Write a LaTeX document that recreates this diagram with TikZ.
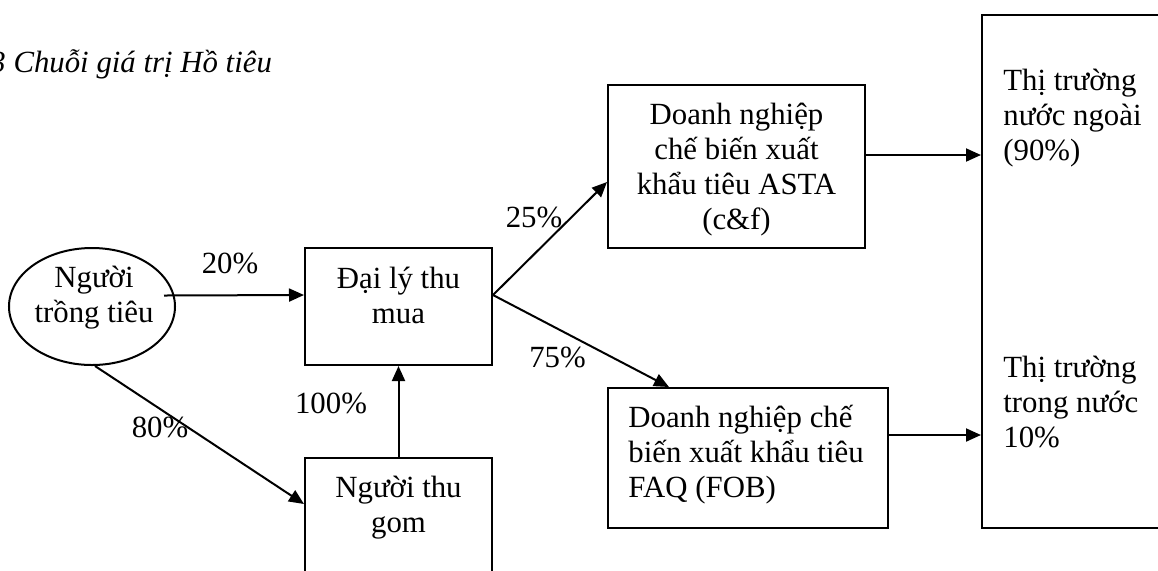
\documentclass[tikz,border=0pt]{standalone}
\usepackage{fontspec}
\setmainfont{Liberation Serif}
\usetikzlibrary{arrows.meta,shapes.geometric}
\newcommand\mytab[2]{\begin{tabular}[t]{@{}#1@{}}#2\end{tabular}}
\begin{document}
\begin{tikzpicture}[x=0.5pt,y=-0.5pt,
  every node/.style={font=\fontsize{15.4}{17.5}\selectfont, inner sep=0pt},
  boxshape/.style={draw, line width=1pt, rectangle, inner sep=0pt},
  ellshape/.style={draw, line width=1pt, ellipse, inner sep=0pt},
  conn/.style={line width=1pt, -{Triangle[length=7.5pt,width=6.5pt]}},
  lbl/.style={anchor=base},
  txt/.style={anchor=base},
  txtl/.style={anchor=base west}]
\useasboundingbox (0,0) rectangle (1158,570);
\clip (0,0) rectangle (1158,570);

% title (cut at the left edge)
\node[anchor=base west, font=\fontsize{15.4}{17.5}\selectfont\itshape] (title) at (-10,72) {3 Chuỗi giá trị Hồ tiêu};

% shapes
\node[ellshape, minimum width=83pt, minimum height=58.5pt] (ngu) at (92,306.5) {};
\node[boxshape, minimum width=93.5pt, minimum height=58.5pt] (dl) at (398.5,306.5) {};
\node[boxshape, minimum width=93.5pt, minimum height=81pt] (ntg) at (398.5,539) {};
\node[boxshape, minimum width=128.5pt, minimum height=81.5pt] (asta) at (736.5,166.5) {};
\node[boxshape, minimum width=140pt, minimum height=70pt] (faq) at (748,458) {};
\node[boxshape, minimum width=109pt, minimum height=256.5pt] (rb) at (1091,271.5) {};

% texts
\node[txt] (tngu) at (94,287) {\mytab{c}{Người\\trồng tiêu}};
\node[txt] (tdl) at (398.5,288) {\mytab{c}{Đại lý thu\\mua}};
\node[txt] (tntg) at (398.5,497) {\mytab{c}{Người thu\\gom}};
\node[txt] (tasta) at (736.5,124) {\mytab{c}{Doanh nghiệp\\chế biến xuất\\khẩu tiêu ASTA\\(c\&f)}};
\node[txtl] (tfaq) at (628,427) {\mytab{l}{Doanh nghiệp chế\\biến xuất khẩu tiêu\\FAQ (FOB)}};
\node[txtl] (trb1) at (1003,90) {\mytab{l}{Thị trường\\nước ngoài\\(90\%)}};
\node[txtl] (trb2) at (1003,377) {\mytab{l}{Thị trường\\trong nước\\10\%}};

% labels
\node[lbl] (l20) at (230,273) {20\%};
\node[lbl] (l80) at (160,437) {80\%};
\node[lbl] (l100) at (331,413) {100\%};
\node[lbl] (l25) at (534,227) {25\%};
\node[lbl] (l75) at (557.5,367) {75\%};

% connectors
\draw[conn] ([shift={(-12,-11)}]ngu.east) -- ([shift={(0,-11.5)}]dl.west);
\draw[conn] ([shift={(3,0)}]ngu.south) -- ([shift={(0,47)}]ntg.north west);
\draw[conn] (ntg.north) -- (dl.south);
\draw[conn] ([shift={(0,-11.5)}]dl.east) -- ([shift={(0,15.5)}]asta.west);
\draw[conn] ([shift={(0,-11.5)}]dl.east) -- ([shift={(62,0)}]faq.north west);
\draw[conn] ([shift={(0,-11.5)}]asta.east) -- ([shift={(0,-116.5)}]rb.west);
\draw[conn] ([shift={(0,-23)}]faq.east) -- ([shift={(0,163.5)}]rb.west);
\end{tikzpicture}
\end{document}
